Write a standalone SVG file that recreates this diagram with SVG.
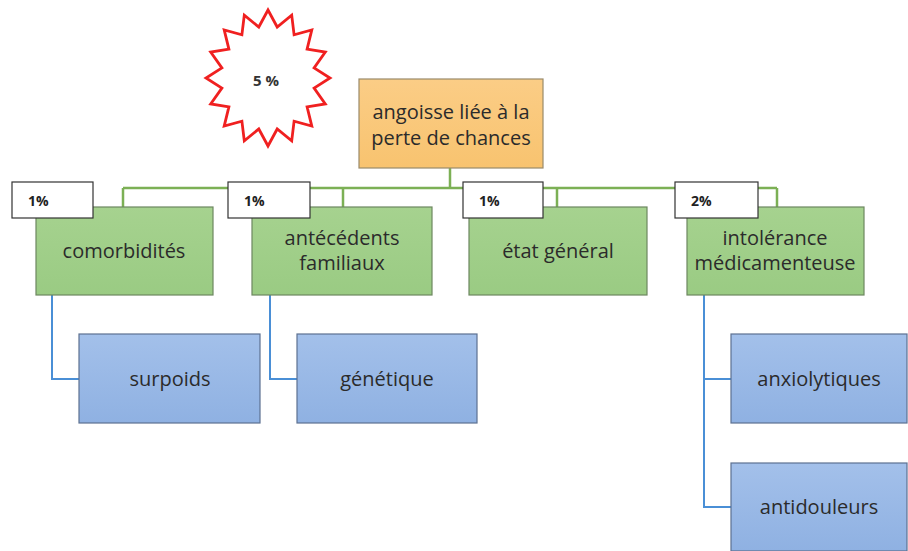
<svg xmlns="http://www.w3.org/2000/svg" width="908" height="551" viewBox="0 0 908 551">
<defs>
<linearGradient id="gOr" x1="0" y1="0" x2="0" y2="1"><stop offset="0" stop-color="#fbcd86"/><stop offset="1" stop-color="#f8c36f"/></linearGradient>
<linearGradient id="gGr" x1="0" y1="0" x2="0" y2="1"><stop offset="0" stop-color="#a6d28f"/><stop offset="1" stop-color="#9acb83"/></linearGradient>
<linearGradient id="gBl" x1="0" y1="0" x2="0" y2="1"><stop offset="0" stop-color="#a3c0ea"/><stop offset="1" stop-color="#8fb1e2"/></linearGradient>
</defs>
<style>
text{font-family:"Open Sans","Liberation Sans",sans-serif;text-anchor:middle;fill:#2b2b2b}
.lbl{font-size:20px}
.pct{font-size:14px;font-weight:bold;text-anchor:start;fill:#222}
.or{fill:url(#gOr);stroke:#9a8a6a;stroke-width:1.2}
.gr{fill:url(#gGr);stroke:#6d8760;stroke-width:1.2}
.bl{fill:url(#gBl);stroke:#5d7191;stroke-width:1.2}
.pb{fill:#fff;stroke:#333;stroke-width:1.2}
.cg{fill:none;stroke:#7cb055;stroke-width:2.5}
.cb{fill:none;stroke:#4a8fd6;stroke-width:2}
</style>
<rect width="908" height="551" fill="#fff"/>
<g id="connectors">
<path class="cg" d="M450 168V188M123 188H777M123 188V207M343 188V207M557 188V207M777 188V207"/>
<path class="cb" d="M52 295V379H79M270 295V379H297M704 295V507H731M704 379H731"/>
</g>
<g id="star">
<polygon points="268,10 277.2,27 291.7,15.2 294.1,34.8 311.8,29.9 307.1,49.1 325.3,52 314.1,67.9 330,78 314.1,88.1 325.3,104 307.1,106.9 311.8,126.1 294.1,121.2 291.7,140.8 277.2,129 268,146 258.8,129 244.3,140.8 241.9,121.2 224.2,126.1 228.9,106.9 210.7,104 221.9,88.1 206,78 221.9,67.9 210.7,52 228.9,49.1 224.2,29.9 241.9,34.8 244.3,15.2 258.8,27" fill="#fff" stroke="#f02020" stroke-width="2.8" stroke-linejoin="miter"/>
<text x="266" y="86" style="font-size:15px;font-weight:bold;fill:#333">5 %</text>
</g>
<g id="root">
<rect class="or" x="359" y="79" width="184" height="89"/>
<text class="lbl" x="451" y="119">angoisse liée à la</text>
<text class="lbl" x="451" y="145">perte de chances</text>
</g>
<g id="comorbidites">
<rect class="gr" x="36" y="207" width="177" height="88"/>
<text class="lbl" x="124" y="258">comorbidités</text>
<rect class="pb" x="12" y="182" width="81" height="36"/>
<text class="pct" x="28" y="206">1%</text>
</g>
<g id="antecedents">
<rect class="gr" x="252" y="207" width="180" height="88"/>
<text class="lbl" x="342" y="245">antécédents</text>
<text class="lbl" x="342" y="270">familiaux</text>
<rect class="pb" x="228" y="182" width="82" height="36"/>
<text class="pct" x="244" y="206">1%</text>
</g>
<g id="etat">
<rect class="gr" x="469" y="207" width="178" height="88"/>
<text class="lbl" x="558" y="258">état général</text>
<rect class="pb" x="463" y="182" width="80" height="36"/>
<text class="pct" x="479" y="206">1%</text>
</g>
<g id="intolerance">
<rect class="gr" x="687" y="207" width="177" height="88"/>
<text class="lbl" x="775" y="245">intolérance</text>
<text class="lbl" x="775" y="270">médicamenteuse</text>
<rect class="pb" x="675" y="182" width="83" height="36"/>
<text class="pct" x="691" y="206">2%</text>
</g>
<g id="surpoids">
<rect class="bl" x="79" y="334" width="181" height="89"/>
<text class="lbl" x="170" y="386">surpoids</text>
</g>
<g id="genetique">
<rect class="bl" x="297" y="334" width="180" height="89"/>
<text class="lbl" x="387" y="386">génétique</text>
</g>
<g id="anxiolytiques">
<rect class="bl" x="731" y="334" width="176" height="89"/>
<text class="lbl" x="819" y="386">anxiolytiques</text>
</g>
<g id="antidouleurs">
<rect class="bl" x="731" y="463" width="176" height="88"/>
<text class="lbl" x="819" y="514">antidouleurs</text>
</g>
</svg>
